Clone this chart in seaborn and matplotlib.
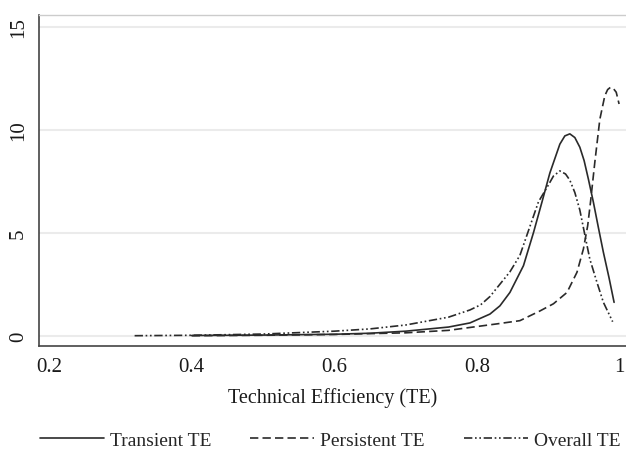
import numpy as np
import pandas as pd
import matplotlib
matplotlib.use("Agg")
import matplotlib.pyplot as plt
import seaborn as sns

# ---- data ----
transient_x = [0.40, 0.50, 0.60, 0.65, 0.70, 0.76, 0.79, 0.818, 0.832, 0.846, 0.865, 0.879,
               0.891, 0.902, 0.916, 0.923, 0.930, 0.937, 0.944, 0.950, 0.956, 0.963, 0.970,
               0.977, 0.985, 0.992]
transient_y = [0.01, 0.03, 0.07, 0.12, 0.22, 0.42, 0.62, 1.05, 1.45, 2.10, 3.40, 5.00,
               6.50, 7.90, 9.30, 9.70, 9.80, 9.62, 9.15, 8.50, 7.60, 6.48, 5.25,
               4.05, 2.80, 1.62]

persistent_x = [0.40, 0.50, 0.60, 0.70, 0.76, 0.79, 0.827, 0.860, 0.888, 0.907, 0.926,
                0.940, 0.949, 0.955, 0.959, 0.965, 0.972, 0.979, 0.983, 0.987, 0.991,
                0.995, 0.999]
persistent_y = [0.00, 0.02, 0.06, 0.14, 0.26, 0.40, 0.57, 0.73, 1.20, 1.55, 2.10,
                3.08, 4.21, 5.34, 6.50, 8.42, 10.50, 11.65, 11.95, 12.06, 12.00,
                11.82, 11.25]

overall_x = [0.32, 0.40, 0.50, 0.60, 0.65, 0.70, 0.76, 0.79, 0.805, 0.818, 0.832, 0.846,
             0.860, 0.874, 0.886, 0.898, 0.907, 0.916, 0.924, 0.930, 0.937, 0.944, 0.951,
             0.958, 0.968, 0.977, 0.990]
overall_y = [0.00, 0.02, 0.08, 0.22, 0.33, 0.52, 0.90, 1.25, 1.50, 1.90, 2.50, 3.10,
             3.90, 5.30, 6.50, 7.20, 7.75, 8.00, 7.85, 7.55, 6.95, 6.10, 4.90,
             3.72, 2.59, 1.62, 0.68]

series_labels = ["Transient TE", "Persistent TE", "Overall TE"]
x_ticks = [0.2, 0.4, 0.6, 0.8, 1.0]
x_ticklabels = ["0.2", "0.4", "0.6", "0.8", "1"]
y_ticks = [0, 5, 10, 15]
x_label = "Technical Efficiency (TE)"

# ---- styling ----
sns.set_theme(style="white")
plt.rcParams["font.family"] = ["Liberation Serif", "DejaVu Serif"]

fig = plt.figure(figsize=(6.26, 4.56), dpi=100)
ax = fig.add_axes([39 / 626, 1 - 347 / 456, 1 - 39 / 626, (347 - 16) / 456])

dfs = [
    pd.DataFrame({"TE": transient_x, "density": transient_y}),
    pd.DataFrame({"TE": persistent_x, "density": persistent_y}),
    pd.DataFrame({"TE": overall_x, "density": overall_y}),
]
styles = [None, (5, 2.5), (5, 1.6, 1, 1.6, 1, 1.6)]
lc = "#2a2a2a"
for df, lab, ds in zip(dfs, series_labels, styles):
    sns.lineplot(data=df, x="TE", y="density", ax=ax, color=lc, lw=1.2,
                 label=lab, estimator=None, sort=True)
    ax.lines[-1].set_solid_joinstyle("round")
    ax.lines[-1].set_dash_joinstyle("round")
    if ds is not None:
        ax.lines[-1].set_dashes(ds)

ax.set_xlim(0.186, 1.0087)
ax.set_ylim(-0.5, 15.57)
ax.set_xticks(x_ticks)
ax.set_xticklabels(x_ticklabels, fontsize=15)
ax.set_yticks(y_ticks)
ax.set_yticklabels([str(v) for v in y_ticks], fontsize=15, rotation=90, va="center")
ax.tick_params(axis="both", direction="out", length=5, width=1.0, color="#333333",
               labelcolor="#1a1a1a")
ax.tick_params(axis="y", pad=3)
ax.tick_params(axis="x", pad=3)

ax.grid(axis="y", color="#ebebeb", lw=1.5)
ax.grid(axis="x", visible=False)
ax.set_axisbelow(True)

for s in ["left", "bottom"]:
    ax.spines[s].set_color("#444444")
    ax.spines[s].set_linewidth(1.2)
ax.spines["top"].set_color("#cccccc")
ax.spines["top"].set_linewidth(1.0)
ax.spines["right"].set_visible(False)

ax.set_xlabel(x_label, fontsize=14.5, color="#1a1a1a", labelpad=8)
ax.set_ylabel("")

handles, labels = ax.get_legend_handles_labels()
ax.get_legend().remove()
fig.legend(handles, labels, loc="center", bbox_to_anchor=(0.527, 1 - 441 / 456),
           ncol=3, frameon=False, fontsize=14, handlelength=3.3,
           handletextpad=0.3, columnspacing=2.0)

fig.savefig("out.png", dpi=100)
